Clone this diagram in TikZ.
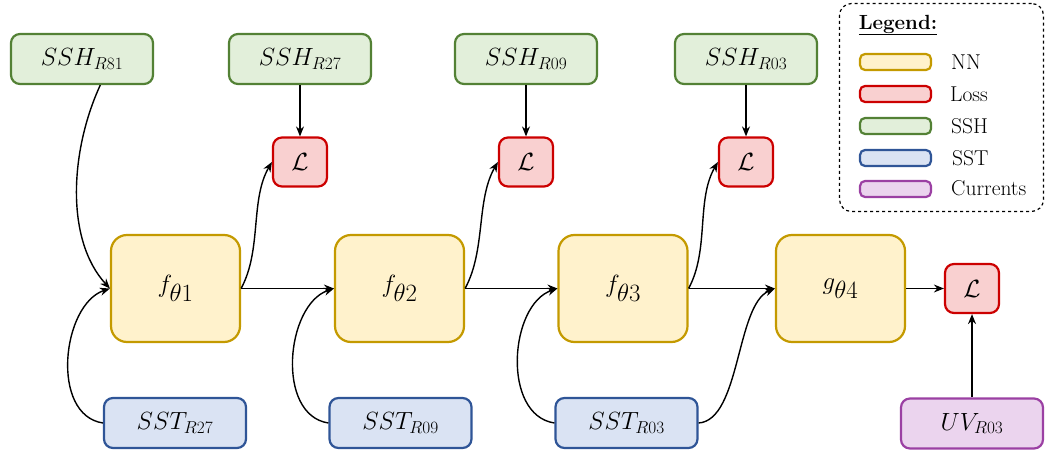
\documentclass[tikz,border=0pt]{standalone}
\usetikzlibrary{arrows.meta}
\definecolor{nnF}{HTML}{FFF2CC}\definecolor{nnD}{HTML}{C49A00}
\definecolor{lsF}{HTML}{F9D0D0}\definecolor{lsD}{HTML}{CC0000}
\definecolor{shF}{HTML}{E2EFDA}\definecolor{shD}{HTML}{538135}
\definecolor{stF}{HTML}{DAE3F3}\definecolor{stD}{HTML}{2F5597}
\definecolor{uvF}{HTML}{EBD4EE}\definecolor{uvD}{HTML}{9B40A3}
\tikzset{
  box/.style={line width=2.2pt, rounded corners=9pt, inner sep=0pt, align=center},
  sshbox/.style={box, draw=shD, fill=shF, minimum width=142pt, minimum height=50pt, font=\fontsize{25}{28}\selectfont},
  sstbox/.style={box, draw=stD, fill=stF, minimum width=142pt, minimum height=50pt, font=\fontsize{25}{28}\selectfont},
  uvbox/.style={box, draw=uvD, fill=uvF, minimum width=142pt, minimum height=50pt, font=\fontsize{25}{28}\selectfont},
  nnbox/.style={box, rounded corners=16pt, draw=nnD, fill=nnF, minimum width=129pt, minimum height=107pt, font=\fontsize{35}{37}\selectfont},
  lossbox/.style={box, draw=lsD, fill=lsF, minimum width=54pt, minimum height=49pt, font=\fontsize{26}{28}\selectfont},
  legsw/.style={line width=2.2pt, rounded corners=5pt, minimum width=71pt, minimum height=16pt, inner sep=0pt},
  legtxt/.style={anchor=west, inner sep=0pt, font=\fontsize{21.5}{23}\selectfont},
  arr/.style={-{Stealth[length=10pt,width=8pt]}, line width=1.4pt},
}
\begin{document}
\begin{tikzpicture}[x=1pt,y=-1pt]
\useasboundingbox (0,0) rectangle (1046,454);
% top SSH
\node[sshbox] (ssh81) at (82,59) {$SSH_{R81}$};
\node[sshbox] (ssh27) at (300,59) {$SSH_{R27}$};
\node[sshbox] (ssh09) at (526,59) {$SSH_{R09}$};
\node[sshbox] (ssh03) at (746,59) {$SSH_{R03}$};
% losses
\node[lossbox] (l1) at (300,162) {$\mathcal{L}$};
\node[lossbox] (l2) at (526,162) {$\mathcal{L}$};
\node[lossbox] (l3) at (746,162) {$\mathcal{L}$};
\node[lossbox] (l4) at (972,288.5) {$\mathcal{L}$};
% NN
\node[nnbox] (f1) at (175.5,288.5) {$f_{\theta 1}$};
\node[nnbox] (f2) at (399.5,288.5) {$f_{\theta 2}$};
\node[nnbox] (f3) at (623,288.5) {$f_{\theta 3}$};
\node[nnbox] (g4) at (840.5,288.5) {$g_{\theta 4}$};
% SST
\node[sstbox] (sst27) at (175,423) {$SST_{R27}$};
\node[sstbox] (sst09) at (400.5,423) {$SST_{R09}$};
\node[sstbox] (sst03) at (626.5,423) {$SST_{R03}$};
\node[uvbox] (uv) at (972,423.5) {$UV_{R03}$};
% connectors
\draw[arr] (ssh81.-55) .. controls +(-30,65) and +(-45,-49) .. (f1.west);
\draw[arr] (sst27.west) .. controls +(-53,-8) and +(-48,16) .. (f1.west);
\draw[arr] (sst09.west) .. controls +(-53,-8) and +(-48,16) .. (f2.west);
\draw[arr] (sst03.west) .. controls +(-53,-8) and +(-48,16) .. (f3.west);
\draw[arr] (sst03.east) .. controls +(42,-3) and +(-39,16) .. (g4.west);
\draw[arr] (f1.east) -- (f2.west);
\draw[arr] (f2.east) -- (f3.west);
\draw[arr] (f3.east) -- (g4.west);
\draw[arr] (g4.east) -- (l4.west);
\draw[arr] (f1.east) .. controls +(21,-39) and +(-22,38) .. (l1.west);
\draw[arr] (f2.east) .. controls +(21,-39) and +(-22,38) .. (l2.west);
\draw[arr] (f3.east) .. controls +(21,-39) and +(-22,38) .. (l3.west);
\draw[arr] (ssh27.south) -- (l1.north);
\draw[arr] (ssh09.south) -- (l2.north);
\draw[arr] (ssh03.south) -- (l3.north);
\draw[arr] (uv.north) -- (l4.south);
% legend
\node[draw, dashed, line width=1.2pt, rounded corners=12pt, minimum width=204pt, minimum height=208pt, inner sep=0pt] (legend) at (941.5,107.5) {};
\node[inner sep=0pt, font=\fontsize{20.5}{22}\selectfont\bfseries] (legtitle) at (898,25) {\underline{Legend:}};
\node[legsw, draw=nnD, fill=nnF] (swnn) at (895.5,62) {};
\node[legsw, draw=lsD, fill=lsF] (swls) at (895.5,94) {};
\node[legsw, draw=shD, fill=shF] (swsh) at (895.5,126) {};
\node[legsw, draw=stD, fill=stF] (swst) at (895.5,158) {};
\node[legsw, draw=uvD, fill=uvF] (swuv) at (895.5,189) {};
\node[legtxt] (tnn) at (951,62) {NN};
\node[legtxt] (tls) at (950,94) {Loss};
\node[legtxt] (tsh) at (951,126) {SSH};
\node[legtxt] (tst) at (952,158) {SST};
\node[legtxt] (tuv) at (951,188) {Currents};
\end{tikzpicture}
\end{document}
